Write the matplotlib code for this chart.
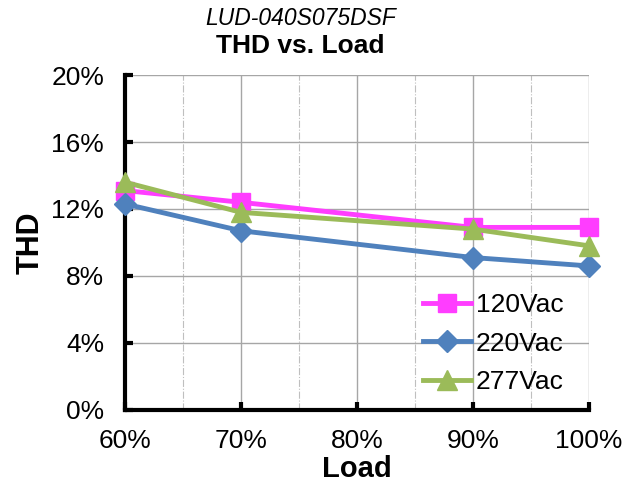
import matplotlib
matplotlib.use("Agg")
import matplotlib.pyplot as plt
from matplotlib.ticker import FuncFormatter, MultipleLocator

plt.rcParams["font.family"] = ["Liberation Sans", "DejaVu Sans"]

# ── Data ─────────────────────────────────────────────────────────────────────
load = [60, 70, 90, 100]
thd_120 = [13.1, 12.4, 10.9, 10.9]
thd_220 = [12.3, 10.7, 9.1, 8.6]
thd_277 = [13.6, 11.8, 10.8, 9.8]

C_120 = "#FF3DFF"
C_220 = "#4F81BD"
C_277 = "#9BBB59"

fig = plt.figure(figsize=(6.23, 4.84), dpi=100)
ax = fig.add_axes([0.2006, 0.153, 0.7448, 0.692])

# grid: solid at major, dash-dot at half steps
for x in [70, 80, 90, 100]:
    ax.axvline(x, color="#A6A6A6", lw=1, zorder=0)
for x in [65, 75, 85, 95]:
    ax.axvline(x, color="#BFBFBF", lw=0.8, ls="-.", zorder=0)
for y in [4, 8, 12, 16, 20]:
    ax.axhline(y, color="#A6A6A6", lw=1, zorder=0)

ax.plot(load, thd_120, color=C_120, lw=3.5, marker="s", markersize=13,
        label="120Vac", zorder=3, clip_on=False)
ax.plot(load, thd_220, color=C_220, lw=3.5, marker="D", markersize=11,
        label="220Vac", zorder=4, clip_on=False)
ax.plot(load, thd_277, color=C_277, lw=3.5, marker="^", markersize=14,
        label="277Vac", zorder=5, clip_on=False)

ax.set_xlim(60, 100)
ax.set_ylim(0, 20)
ax.xaxis.set_major_locator(MultipleLocator(10))
ax.yaxis.set_major_locator(MultipleLocator(4))
ax.xaxis.set_major_formatter(FuncFormatter(lambda v, p: f"{v:.0f}%"))
ax.yaxis.set_major_formatter(FuncFormatter(lambda v, p: f"{v:.0f}%"))

for s in ["top", "right"]:
    ax.spines[s].set_visible(False)
for s in ["left", "bottom"]:
    ax.spines[s].set_linewidth(3)
    ax.spines[s].set_color("black")
    ax.spines[s].set_capstyle("projecting")
ax.tick_params(direction="in", length=6, width=3, labelsize=19)
ax.tick_params(axis="y", pad=15)
ax.tick_params(axis="x", pad=14)

ax.set_xlabel("Load", fontsize=21, fontweight="bold", labelpad=1)
ax.set_ylabel("THD", fontsize=22, fontweight="bold", labelpad=4)

fig.text(0.482, 0.962, "LUD-040S075DSF", fontsize=16.5, style="italic",
         ha="center", va="center")
fig.text(0.482, 0.905, "THD vs. Load", fontsize=19, fontweight="bold",
         ha="center", va="center")

ax.legend(loc="lower right", bbox_to_anchor=(0.98, 0.0), frameon=False,
          fontsize=19, handlelength=1.8, handletextpad=0.2, labelspacing=0.55,
          borderaxespad=0.2)

fig.savefig("out.png", dpi=100)
